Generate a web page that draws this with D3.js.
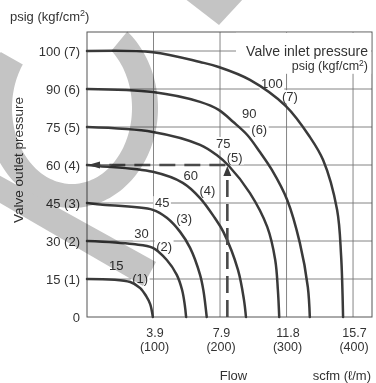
<!DOCTYPE html>
<html><head><meta charset="utf-8">
<script src="https://cdn.jsdelivr.net/npm/d3@7"></script>
<style>
html,body{margin:0;padding:0;background:#fff;}
svg{display:block;font-family:"Liberation Sans",Arial,Helvetica,sans-serif;}
</style>
</head><body>
<svg id="c" width="376" height="383"></svg>
<script>
// ---------- data ----------
const flowTicks = [100, 200, 300, 400];                 // l/m
const scfmLabels = ["3.9", "7.9", "11.8", "15.7"];
const lpmLabels = ["(100)", "(200)", "(300)", "(400)"];
const pressureTicks = [0, 1, 2, 3, 4, 5, 6, 7];        // kgf/cm2
const pressureLabels = ["0", "15 (1)", "30 (2)", "45 (3)", "60 (4)", "75 (5)", "90 (6)", "100 (7)"];
const inletPsig = ["15", "30", "45", "60", "75", "90", "100"];
const inletKgf = ["(1)", "(2)", "(3)", "(4)", "(5)", "(6)", "(7)"];

// outlet pressure (kgf/cm2) vs flow (l/m), one curve per inlet pressure
const curve15  = [[0,1.00],[65,0.92],[80,0.76],[89,0.55],[95,0.34],[99,0]];
const curve30  = [[0,2.00],[69,1.92],[99,1.82],[120,1.50],[135,1.11],[143,0.71],[147,0.32],[149,0]];
const curve45  = [[0,3.00],[20,2.96],[99,2.82],[120,2.61],[140,2.24],[155,1.82],[170,1.11],[175,0.70],[180,0]];
const curve60  = [[0,4.00],[20,3.97],[99,3.82],[144,3.53],[170,3.13],[192,2.61],[205,2.24],[227,1.24],[236,0.45],[239,0]];
const curve75  = [[0,5.00],[99,4.87],[170,4.53],[195,4.26],[213,3.98],[245,3.26],[271,2.37],[283,1.50],[287,0.71],[289,0]];
const curve90  = [[0,6.00],[99,5.92],[170,5.66],[198,5.45],[220,5.13],[241,4.79],[260,4.34],[278,3.87],[301,3.08],[320,1.95],[332,0.79],[335,0]];
const curve100 = [[0,7.00],[99,6.97],[170,6.71],[198,6.58],[245,6.24],[299,5.55],[335,4.74],[355,4.13],[376,2.82],[382,1.63],[385,0]];
const curves = [curve15, curve30, curve45, curve60, curve75, curve90, curve100];

// annotation anchors (flow, pressure) for the curve labels
const psigLabelAt = [[44,1.24],[82,2.08],[113,2.89],[156,3.61],[205,4.45],[244,5.24],[278,6.03]];
const kgfLabelAt  = [[80,0.89],[116,1.74],[146,2.47],[181,3.21],[222,4.08],[259,4.82],[305,5.68]];

// example reading
const readFlow = 211, readPressure = 4;

// ---------- drawing ----------
const W = 376, H = 383;
const x = d3.scaleLinear().domain([0, 428.5]).range([87, 372]);
const y = d3.scaleLinear().domain([0, 7.5]).range([317, 32]);
const svg = d3.select("#c");
const ink = "#333";

svg.append("rect").attr("width", W).attr("height", H).attr("fill", "#fff");

// grid
const grid = svg.append("g").attr("stroke", "#777").attr("stroke-width", 0.9);
grid.selectAll("line.h").data(pressureTicks.filter(d => d > 0)).join("line")
  .attr("x1", x(0)).attr("x2", x.range()[1]).attr("y1", d => y(d)).attr("y2", d => y(d));
grid.selectAll("line.v").data(flowTicks).join("line")
  .attr("x1", d => x(d)).attr("x2", d => x(d)).attr("y1", y.range()[1]).attr("y2", y(0));

// frame
svg.append("rect").attr("x", x(0)).attr("y", y.range()[1])
  .attr("width", x.range()[1] - x(0)).attr("height", y(0) - y.range()[1])
  .attr("fill", "none").attr("stroke", "#555").attr("stroke-width", 1);

// y axis labels
const yAxis = svg.append("g").attr("transform", `translate(${x(0)},0)`)
  .call(d3.axisLeft(y).tickValues(pressureTicks).tickFormat((d, i) => pressureLabels[i]).tickSize(0).tickPadding(7));
yAxis.select(".domain").remove();
yAxis.selectAll("text").attr("font-size", 13).attr("fill", ink)
  .attr("font-family", "'Liberation Sans',Arial,sans-serif");

// x axis labels
const xl = svg.append("g").attr("font-size", 12.5).attr("fill", ink).attr("text-anchor", "middle");
xl.selectAll("text.s").data(flowTicks).join("text").attr("x", d => x(d) + 1.5).attr("y", 336.5).text((d, i) => scfmLabels[i]);
xl.selectAll("text.l").data(flowTicks).join("text").attr("x", d => x(d) + 1).attr("y", 350.5).text((d, i) => lpmLabels[i]);

svg.append("text").attr("x", 233.5).attr("y", 379.5).attr("text-anchor", "middle")
  .attr("font-size", 13).attr("fill", ink).text("Flow");
svg.append("text").attr("x", 371).attr("y", 379.5).attr("text-anchor", "end")
  .attr("font-size", 13).attr("fill", ink).text("scfm (ℓ/m)");

// y titles
const t1 = svg.append("text").attr("x", 10).attr("y", 21).attr("font-size", 13).attr("fill", ink);
t1.append("tspan").text("psig  (kgf/cm");
t1.append("tspan").attr("font-size", 9).attr("dy", -5).text("2");
t1.append("tspan").attr("dy", 5).text(")");

svg.append("text").attr("transform", "translate(23,160) rotate(-90)").attr("text-anchor", "middle")
  .attr("font-size", 13.5).attr("fill", ink).text("Valve outlet pressure");

// legend title with white knock-out
const leg = svg.append("g");
const legBg = leg.append("rect").attr("fill", "#fff");
leg.append("text").attr("x", 368).attr("y", 55.5).attr("text-anchor", "end")
  .attr("font-size", 14).attr("fill", ink).text("Valve inlet pressure");
const t2 = leg.append("text").attr("x", 368).attr("y", 70).attr("text-anchor", "end")
  .attr("font-size", 12.5).attr("fill", ink);
t2.append("tspan").text("psig (kgf/cm");
t2.append("tspan").attr("font-size", 8.5).attr("dy", -4.5).text("2");
t2.append("tspan").attr("dy", 4.5).text(")");
legBg.attr("x", 236).attr("y", y.range()[1] + 0.8).attr("width", x.range()[1] - 236 - 0.8).attr("height", 41);

// curve labels with white knock-out
const labs = svg.append("g").attr("font-size", 13).attr("fill", ink).attr("text-anchor", "middle");
function knockLabel(px, py, txt) {
  const g = labs.append("g");
  const r = g.append("rect").attr("fill", "#fff");
  const t = g.append("text").attr("x", px).attr("y", py).text(txt);
  const b = t.node().getBBox();
  r.attr("x", b.x - 1.5).attr("y", b.y + 1).attr("width", b.width + 3).attr("height", b.height - 1.5);
}
curves.forEach((c, i) => {
  knockLabel(x(psigLabelAt[i][0]), y(psigLabelAt[i][1]), inletPsig[i]);
  knockLabel(x(kgfLabelAt[i][0]), y(kgfLabelAt[i][1]), inletKgf[i]);
});

// curves
const line = d3.line().x(d => x(d[0])).y(d => y(d[1])).curve(d3.curveCatmullRom.alpha(0.5));
svg.append("g").selectAll("path").data(curves).join("path")
  .attr("d", line).attr("fill", "none").attr("stroke", "#3a3a3a").attr("stroke-width", 2.5)
  .attr("stroke-linecap", "round");

// reading arrows (dashed)
const ax = x(readFlow), ay = y(readPressure);
const arr = svg.append("g").attr("stroke", "#4a4a4a").attr("stroke-width", 2.6).attr("fill", "none");
arr.append("line").attr("x1", ax).attr("y1", y(0)).attr("x2", ax).attr("y2", ay + 10)
  .attr("stroke-dasharray", "17,7");
arr.append("line").attr("x1", ax - 2).attr("y1", ay).attr("x2", x(0) + 12).attr("y2", ay)
  .attr("stroke-dasharray", "16,9");
arr.append("line").attr("x1", x(0) + 12).attr("y1", ay).attr("x2", x(0) + 30).attr("y2", ay)
  .attr("stroke-width", 1);
svg.append("path").attr("fill", "#3a3a3a")
  .attr("d", `M${ax},${ay + 1} L${ax - 4},${ay + 11} L${ax + 4},${ay + 11} Z`);
svg.append("path").attr("fill", "#3a3a3a")
  .attr("d", `M${x(0) + 1},${ay} L${x(0) + 13},${ay - 3.5} L${x(0) + 13},${ay + 3.5} Z`);

// grey watermark (decorative), multiplied over the drawing
const wm = svg.append("g").attr("fill", "#c4c4c4").style("mix-blend-mode", "multiply");
(function ring() {
  const cx = 72, cy = 108, orx = 86, ory = 100, irx = 60, iry = 76;
  const a0 = -50, a1 = 215, pts = [];
  for (let a = a0; a <= a1; a += 2) { const t = a * Math.PI / 180; pts.push([cx + orx * Math.cos(t), cy + ory * Math.sin(t)]); }
  for (let a = a1; a >= a0; a -= 2) { const t = a * Math.PI / 180; pts.push([cx + irx * Math.cos(t), cy + iry * Math.sin(t)]); }
  wm.append("path").attr("d", "M" + pts.map(p => p.join(",")).join("L") + "Z");
})();
wm.append("path").attr("d", "M-5,173 L156,262 L143,286 L-5,200 Z");
wm.append("path").attr("d", "M184,-2 L244,-2 L219,25 Z");
</script>
</body></html>
